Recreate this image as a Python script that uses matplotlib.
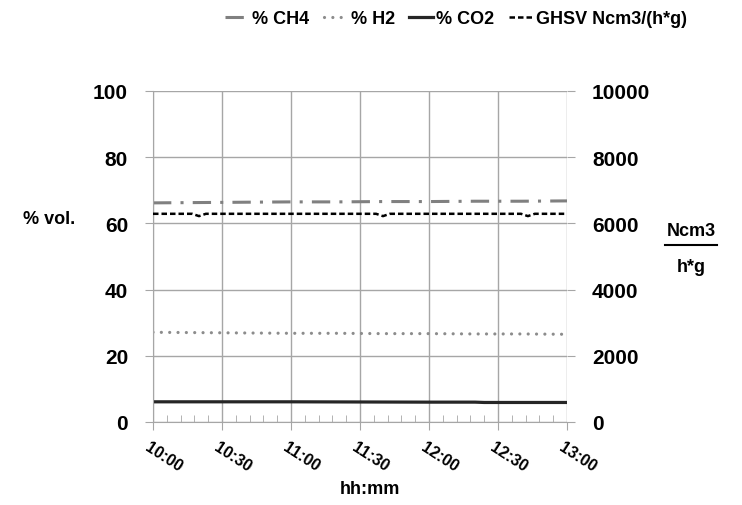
import matplotlib.pyplot as plt
from matplotlib.ticker import MultipleLocator
from matplotlib.lines import Line2D

plt.rcParams['font.family'] = ['Liberation Sans', 'DejaVu Sans']
plt.rcParams['font.weight'] = 'bold'

# minutes after 10:00
t = [0, 20, 40, 60, 80, 100, 120, 140, 160, 180]
ch4 = [66.2, 66.3, 66.4, 66.5, 66.5, 66.6, 66.6, 66.7, 66.7, 66.8]
h2 = [27.1, 27.0, 26.9, 26.8, 26.8, 26.7, 26.7, 26.6, 26.6, 26.5]
t_co2 = [0, 60, 120, 140, 144, 180]
co2 = [6.1, 6.1, 6.0, 6.0, 5.9, 5.9]
t_ghsv = [0, 17, 20, 23, 60, 97, 100, 103, 140, 160, 163, 166, 180]
ghsv = [6290, 6290, 6220, 6290, 6290, 6290, 6220, 6290, 6290, 6290, 6220, 6290, 6290]
xlabels = ['10:00', '10:30', '11:00', '11:30', '12:00', '12:30', '13:00']

grid_c = '#a6a6a6'

fig = plt.figure(figsize=(7.42, 5.06), dpi=100)
ax = fig.add_axes([153/742, 1-423/506, (567-153)/742, (423-92)/506])
ax2 = ax.twinx()

l1, = ax.plot(t, ch4, color='#808080', lw=2.2, dashes=(6, 3, 1, 3))
l2, = ax.plot(t, h2, color='#8c8c8c', lw=2.3, linestyle=(0, (0.01, 2.6)), dash_capstyle='round')
l3, = ax.plot(t_co2, co2, color='#262626', lw=2.3)
l4, = ax2.plot(t_ghsv, ghsv, color='black', lw=1.8, dashes=(2.2, 1.2))

ax.set_xlim(0, 180)
ax.set_ylim(0, 100)
ax2.set_ylim(0, 10000)
ax.set_yticks([0, 20, 40, 60, 80, 100])
ax2.set_yticks([0, 2000, 4000, 6000, 8000, 10000])
ax.set_xticks(range(0, 181, 30))
ax.set_xticklabels([])
ax.xaxis.set_minor_locator(MultipleLocator(6))

ax.grid(True, color=grid_c, lw=1)
for a in (ax, ax2):
    for s in a.spines.values():
        s.set_visible(False)
ax.spines['left'].set_visible(True)
ax.spines['left'].set_color(grid_c)
ax.spines['bottom'].set_visible(True)
ax.spines['bottom'].set_color(grid_c)

ax.tick_params(axis='y', length=6, color=grid_c, pad=12, labelsize=15)
ax2.tick_params(axis='y', length=6, color=grid_c, pad=12, labelsize=15)
ax.tick_params(axis='x', which='major', length=6, color=grid_c, direction='out')
ax.tick_params(axis='x', which='minor', length=5, color=grid_c, direction='in')

for i, lab in enumerate(xlabels):
    ax.text(i * 30 - 1.0, -5.0, lab, rotation=-33, rotation_mode='anchor',
            ha='left', va='top', fontsize=11.5)

fig.text(370/742, 1-490/506, 'hh:mm', ha='center', va='center', fontsize=13)
fig.text(49/742, 1-220/506, '% vol.', ha='center', va='center', fontsize=13)
fig.text(691/742, 1-231/506, 'Ncm3', ha='center', va='center', fontsize=13)
fig.text(691/742, 1-268/506, 'h*g', ha='center', va='center', fontsize=13)
fig.add_artist(Line2D([665/742, 717/742], [1-246/506, 1-246/506], color='black', lw=1.5))

fig.legend([l1, l2, l3, l4], ['% CH4', '% H2', '% CO2', 'GHSV Ncm3/(h*g)'],
           loc='center', bbox_to_anchor=(456/742, 1-20/506), ncol=4, frameon=False,
           handlelength=1.3, handletextpad=0.2, columnspacing=0.8,
           prop={'weight': 'bold', 'size': 13})

fig.savefig('out.png', dpi=100)
